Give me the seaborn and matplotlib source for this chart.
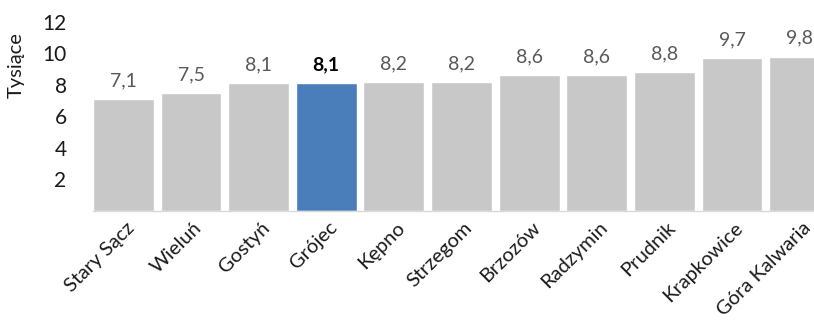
import matplotlib
matplotlib.use('Agg')
import matplotlib.pyplot as plt
import matplotlib.transforms as mtransforms
import seaborn as sns
import pandas as pd

miasta = ['Stary Sącz', 'Wieluń', 'Gostyń', 'Grójec', 'Kępno', 'Strzegom',
          'Brzozów', 'Radzymin', 'Prudnik', 'Krapkowice', 'Góra Kalwaria']
wartosci = [7.1, 7.5, 8.1, 8.1, 8.2, 8.2, 8.6, 8.6, 8.8, 9.7, 9.8]
wyrozniony = 'Grójec'
y_ticks = [2, 4, 6, 8, 10, 12]

SZARY = '#C8C8C8'
NIEBIESKI = '#4A7EBB'

df = pd.DataFrame({'miasto': miasta, 'wartosc': wartosci})
df['grupa'] = ['wyr' if m == wyrozniony else 'inne' for m in miasta]

sns.set_style('white')
plt.rcParams['font.family'] = ['Lato', 'DejaVu Sans']

fig = plt.figure(figsize=(8.14, 3.2), dpi=100)
ax = fig.add_axes([93 / 814, 1 - 210.5 / 320, 737 / 814, 188.5 / 320])

sns.barplot(data=df, x='miasto', y='wartosc', hue='grupa',
            palette={'inne': SZARY, 'wyr': NIEBIESKI}, width=0.9,
            dodge=False, legend=False, ax=ax, saturation=1)

ax.set_ylim(0, 12)
ax.set_xlim(-0.45, len(miasta) - 0.55)
ax.set_yticks(y_ticks)
ax.set_yticklabels([str(t) for t in y_ticks], fontsize=15, color='#1a1a1a')
ax.tick_params(axis='y', length=0, pad=19)
ax.tick_params(axis='x', length=0, pad=6)
ax.set_xticks(range(len(miasta)))
ax.set_xticklabels(miasta, rotation=45, ha='right', rotation_mode='anchor',
                   fontsize=14.5, color='#1a1a1a')
przesun = mtransforms.ScaledTranslation(2 / 100, 0, fig.dpi_scale_trans)
for lab in ax.get_xticklabels():
    lab.set_transform(lab.get_transform() + przesun)
ax.set_xlabel('')
ax.set_ylabel('Tysiące', fontsize=14.5, color='#1a1a1a')
ax.yaxis.set_label_coords(-0.093, 0.77)

for s in ['top', 'right', 'left']:
    ax.spines[s].set_visible(False)
ax.spines['bottom'].set_color('#D9D9D9')
ax.spines['bottom'].set_linewidth(1)

for i, (m, v) in enumerate(zip(miasta, wartosci)):
    txt = f'{v:.1f}'.replace('.', ',')
    if m == wyrozniony:
        ax.annotate(txt, (i, v), xytext=(0, 7), textcoords='offset points',
                    ha='center', va='bottom', fontsize=14, fontweight='bold',
                    color='black')
    else:
        ax.annotate(txt, (i, v), xytext=(0, 7), textcoords='offset points',
                    ha='center', va='bottom', fontsize=14, color='#595959')

plt.savefig('out.png', dpi=100)
plt.close()
